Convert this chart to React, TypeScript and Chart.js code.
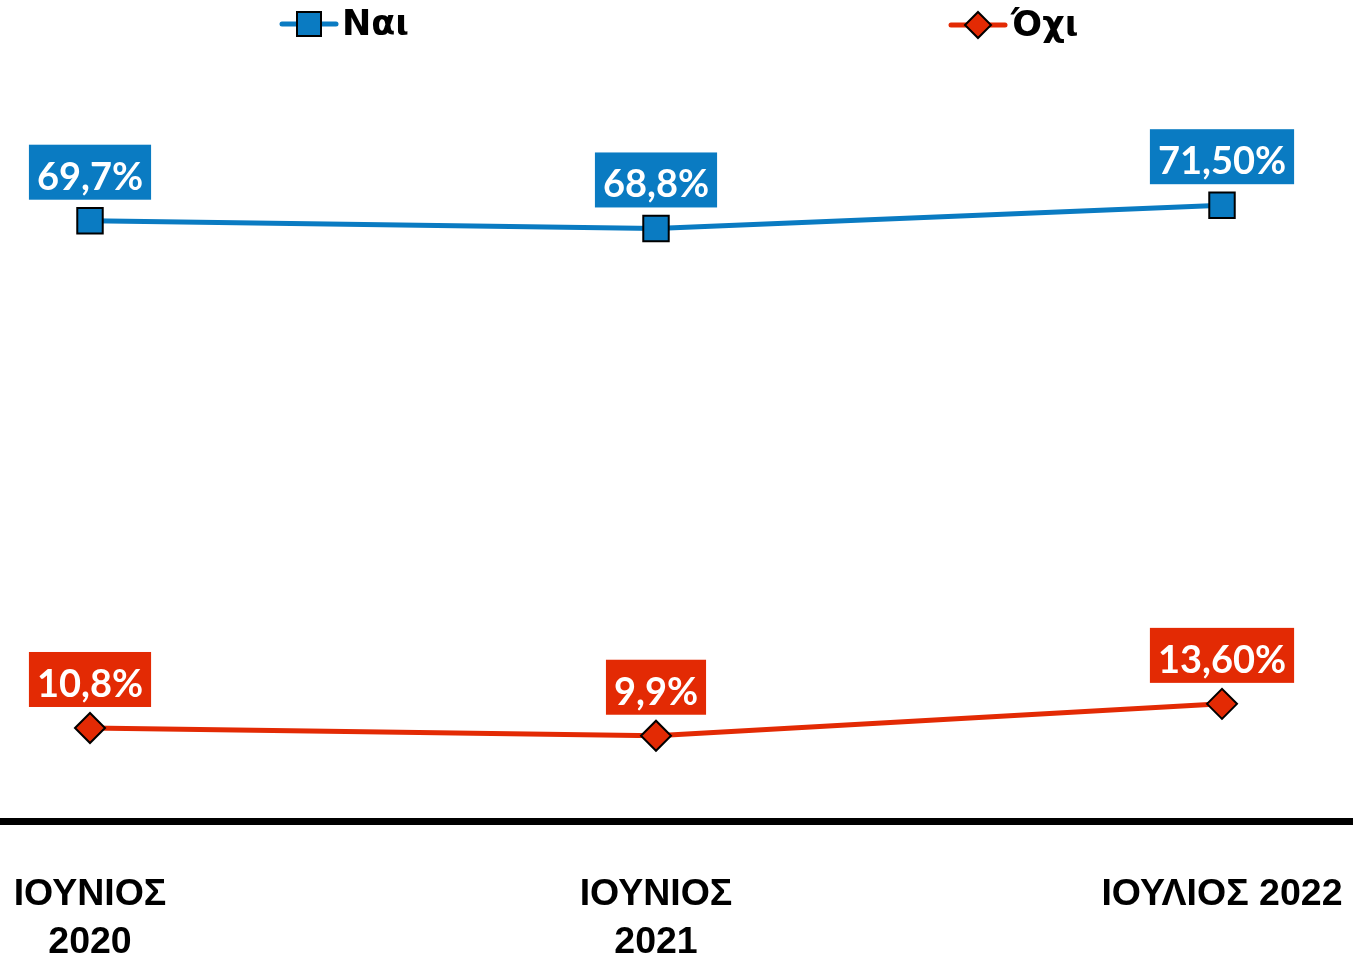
import React, { useEffect, useRef } from "react";
import { Chart, registerables } from "chart.js";

Chart.register(...registerables);

const categories: (string | string[])[] = [["ΙΟΥΝΙΟΣ", "2020"], ["ΙΟΥΝΙΟΣ", "2021"], "ΙΟΥΛΙΟΣ 2022"];
const naiValues = [69.7, 68.8, 71.5];
const oxiValues = [10.8, 9.9, 13.6];
const naiLabels = ["69,7%", "68,8%", "71,50%"];
const oxiLabels = ["10,8%", "9,9%", "13,60%"];
const seriesNames = ["Ναι", "Όχι"];

const BLUE = "#0A7BC2";
const RED = "#E32A04";

const labelPlugin = {
  id: "boxLabels",
  afterDatasetsDraw(chart: any) {
    const ctx = chart.ctx;
    const allLabels = [naiLabels, oxiLabels];
    chart.data.datasets.forEach((ds: any, di: number) => {
      const meta = chart.getDatasetMeta(di);
      meta.data.forEach((pt: any, i: number) => {
        const text = allLabels[di][i];
        ctx.save();
        ctx.font = "bold 38px Lato";
        const w = ctx.measureText(text).width + 16;
        const h = 55;
        const bottom = pt.y - 21;
        ctx.fillStyle = ds.borderColor;
        ctx.fillRect(pt.x - w / 2, bottom - h, w, h);
        ctx.fillStyle = "#ffffff";
        ctx.textAlign = "center";
        ctx.textBaseline = "alphabetic";
        ctx.fillText(text, pt.x, bottom - 10);
        ctx.restore();
      });
    });
  },
};

const axisPlugin = {
  id: "fullAxis",
  beforeDatasetsDraw(chart: any) {
    const ctx = chart.ctx;
    ctx.save();
    ctx.fillStyle = "#000";
    ctx.fillRect(0, chart.chartArea.bottom - 3, chart.width, 7);
    ctx.restore();
  },
};

const legendPlugin = {
  id: "lineLegend",
  afterDraw(chart: any) {
    const ctx = chart.ctx;
    const items = [
      { cx: 309, cy: 24, color: BLUE, style: "rect" },
      { cx: 978, cy: 25, color: RED, style: "diamond" },
    ];
    items.forEach((it, i) => {
      ctx.save();
      ctx.strokeStyle = it.color;
      ctx.lineWidth = 5;
      ctx.lineCap = "round";
      ctx.beginPath();
      ctx.moveTo(it.cx - 27, it.cy);
      ctx.lineTo(it.cx + 27, it.cy);
      ctx.stroke();
      ctx.fillStyle = it.color;
      ctx.strokeStyle = "#000";
      ctx.lineWidth = 2;
      ctx.lineCap = "butt";
      ctx.beginPath();
      if (it.style === "rect") {
        ctx.rect(it.cx - 12, it.cy - 12, 24, 24);
      } else {
        ctx.moveTo(it.cx, it.cy - 13);
        ctx.lineTo(it.cx + 13, it.cy);
        ctx.lineTo(it.cx, it.cy + 13);
        ctx.lineTo(it.cx - 13, it.cy);
        ctx.closePath();
      }
      ctx.fill();
      ctx.stroke();
      ctx.fillStyle = "#000";
      ctx.font = "bold 35px 'DejaVu Sans'";
      ctx.textAlign = "left";
      ctx.textBaseline = "middle";
      ctx.fillText(seriesNames[i], it.cx + 33, it.cy + 2);
      ctx.restore();
    });
  },
};

export default function App() {
  const ref = useRef<HTMLCanvasElement>(null);
  useEffect(() => {
    document.body.style.margin = "0";
    const chart = new Chart(ref.current as HTMLCanvasElement, {
      type: "line",
      data: {
        labels: categories,
        datasets: [
          {
            label: seriesNames[0],
            data: naiValues,
            borderColor: BLUE,
            backgroundColor: BLUE,
            borderWidth: 5,
            pointStyle: "rect",
            pointRadius: 18,
            pointHoverRadius: 18,
            pointBackgroundColor: BLUE,
            pointBorderColor: "#000",
            pointBorderWidth: 2,
            tension: 0,
          },
          {
            label: seriesNames[1],
            data: oxiValues,
            borderColor: RED,
            backgroundColor: RED,
            borderWidth: 5,
            pointStyle: "rectRot",
            pointRadius: 15,
            pointHoverRadius: 15,
            pointBackgroundColor: RED,
            pointBorderColor: "#000",
            pointBorderWidth: 2,
            tension: 0,
          },
        ],
      },
      options: {
        responsive: false,
        animation: false,
        devicePixelRatio: 1,
        layout: { padding: { top: 132, left: 90, right: 131, bottom: 0 } },
        plugins: { legend: { display: false }, tooltip: { enabled: false } },
        scales: {
          x: {
            type: "category",
            offset: false,
            grid: { display: false, drawTicks: false },
            border: { display: false },
            ticks: {
              color: "#000",
              font: { family: "'Liberation Sans', Arial, sans-serif", weight: "bold", size: 37.5, lineHeight: 1.28 },
              padding: 50,
              maxRotation: 0,
              autoSkip: false,
            },
            afterFit: (s: any) => {
              s.height = 135;
              s.paddingLeft = 0;
              s.paddingRight = 0;
            },
          },
          y: { display: false, min: 0, max: 80 },
        },
      },
      plugins: [axisPlugin, labelPlugin, legendPlugin],
    } as any);
    return () => chart.destroy();
  }, []);
  return (
    <div style={{ width: 1353, height: 956 }}>
      <canvas ref={ref} width={1353} height={956} />
    </div>
  );
}
